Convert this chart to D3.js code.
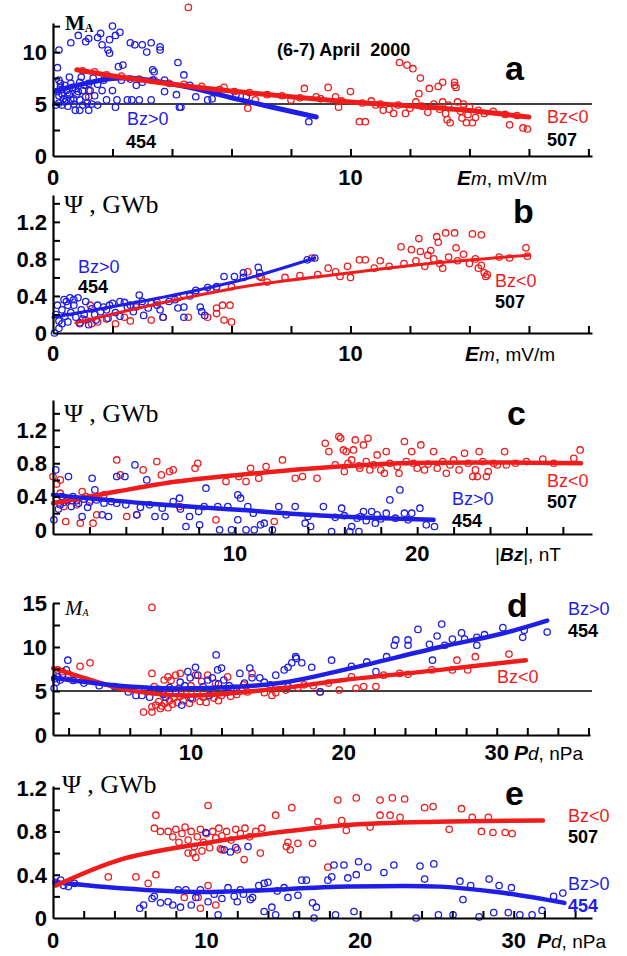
<!DOCTYPE html>
<html>
<head>
<meta charset="utf-8">
<script src="https://cdn.jsdelivr.net/npm/d3@7"></script>
<style>
body { margin: 0; background: #fff; }
text { font-family: "Liberation Sans", Arial, sans-serif; }
.serif { font-family: "Liberation Serif", "Times New Roman", serif; }
</style>
</head>
<body>
<svg id="chart" width="627" height="956"></svg>
<script>
// ---------- data ----------
// panel a : MA vs Em
var aBlue = [[2.0,12.5],[2.25,11.9],[2.1,11.6],[1.6,11.8],[1.5,11.4],[0.85,11.6],[0.6,10.9],[1.1,11.0],[1.2,11.3],[1.65,10.7],[1.9,11.2],[1.9,9.9],[1.85,10.2],[2.6,10.9],[2.75,10.7],[3.0,10.7],[3.3,10.9],[3.15,10.0],[3.6,10.2],[3.6,10.5],[2.35,8.75],[2.2,8.6],[4.2,9.0],[4.4,7.8],[3.4,8.1],[4.15,5.9],[4.25,4.7],[3.75,6.2],[3.3,5.4],[2.9,5.4],[2.65,5.4],[2.5,5.4],[2.1,4.7],[2.15,5.4],[1.8,5.4],[1.65,6.3],[2.0,6.3],[1.4,5.8],[1.25,6.3],[1.15,5.1],[1.2,4.4],[0.9,4.4],[0.75,4.4],[0.9,5.4],[0.6,5.4],[0.45,5.4],[0.2,5.1],[0.25,6.6],[0.2,7.3],[0.15,8.5],[0.2,10.2],[0.45,6.3],[0.6,7.0],[0.75,6.5],[0.9,7.1],[1.0,6.3],[0.3,6.0],[0.35,5.5],[0.55,5.9],[0.8,5.9],[1.1,5.7],[0.4,6.8],[0.55,7.6],[0.95,7.6],[1.35,7.5],[1.7,7.3],[2.8,6.8],[3.0,7.1],[3.35,7.3],[3.35,8.3],[3.75,7.3],[4.8,5.7],[5.2,5.4],[5.35,5.5],[4.6,6.8],[6.15,5.9],[6.5,5.7],[8.6,3.3],[4.3,4.7],[0.1,4.9],[0.3,4.9],[0.5,4.8],[0.7,5.0],[1.0,4.9],[1.3,5.0],[1.5,4.9],[0.15,6.2],[0.3,6.4],[0.5,6.1],[0.65,6.6],[0.85,6.2],[1.05,6.8],[0.2,5.8],[0.4,5.2],[0.7,5.5],[0.25,7.0],[1.2,7.0],[1.5,6.9],[2.3,7.3],[2.6,7.4]];
var aRed = [[4.55,14.3],[1.2,6.3],[1.2,5.7],[5.5,6.3],[5.75,6.6],[6.55,4.6],[6.8,5.4],[8.0,5.4],[8.45,6.5],[8.85,5.7],[9.25,6.6],[9.5,5.7],[9.6,4.7],[10.0,6.2],[10.3,3.3],[10.5,3.3],[10.85,4.9],[11.1,4.4],[11.45,4.1],[11.65,9.0],[11.9,8.75],[12.1,8.4],[12.35,7.5],[12.3,6.0],[12.65,6.5],[12.95,6.7],[13.1,7.1],[13.5,7.1],[13.55,6.6],[13.5,6.8],[11.85,4.1],[13.1,5.2],[13.6,5.2],[13.25,3.5],[13.35,3.2],[13.9,3.2],[14.1,3.2],[13.75,3.65],[15.35,3.0],[15.8,2.7],[15.95,2.6],[1.0,8.2],[1.4,8.1],[1.8,7.8],[2.3,7.7],[2.9,7.4],[3.4,7.3],[3.9,7.0],[4.4,6.9],[5.0,6.7],[5.6,6.4],[6.1,6.2],[6.6,6.1],[7.2,5.9],[7.7,5.8],[8.3,5.6],[9.0,5.5],[9.7,5.3],[10.4,5.1],[11.0,5.0],[11.6,4.9],[12.0,4.6],[12.4,4.8],[12.8,5.0],[13.0,4.5],[13.3,4.9],[13.7,4.3],[14.0,4.7],[14.3,4.4],[14.5,4.1],[14.8,4.3],[15.2,4.0],[15.6,3.9],[12.6,4.2],[13.2,4.1],[13.8,5.0],[12.2,5.2],[11.3,4.5],[10.7,5.3],[13.95,4.0],[14.2,3.7]];
var aBlueFit = [[0.1,6.3],[2.25,7.5],[4.25,6.8],[6.3,5.4],[8.85,3.75]];
var aRedFit = [[0.8,8.3],[2.25,7.6],[4.9,6.6],[10,5.2],[11.65,4.9],[13.9,4.4],[16,3.75]];

// panel b : Psi vs Em
var bBlue = [[0.2,0.05],[0.05,0.0],[0.3,0.1],[0.37,0.36],[0.57,0.38],[0.84,0.38],[1.1,0.34],[0.4,0.18],[0.77,0.17],[0.9,0.11],[1.2,0.09],[1.45,0.14],[1.6,0.23],[1.7,0.28],[2.0,0.32],[2.25,0.34],[2.5,0.28],[2.7,0.23],[2.9,0.41],[3.0,0.34],[3.3,0.32],[3.6,0.25],[3.7,0.17],[3.05,0.19],[2.25,0.18],[1.85,0.16],[4.4,0.17],[4.2,0.27],[4.95,0.28],[5.0,0.23],[5.1,0.19],[4.8,0.46],[5.2,0.49],[5.5,0.5],[5.75,0.61],[6.1,0.61],[6.4,0.6],[6.9,0.71],[6.95,0.65],[8.55,0.79],[8.8,0.81],[6.4,0.65],[0.1,0.2],[0.15,0.3],[0.3,0.25],[0.5,0.3],[0.6,0.22],[0.7,0.3],[0.95,0.25],[1.05,0.2],[1.3,0.26],[1.5,0.3],[1.8,0.25],[2.1,0.22],[2.4,0.33],[2.6,0.3],[3.2,0.27],[3.5,0.3],[3.9,0.34],[4.1,0.36],[4.6,0.4],[0.2,0.13],[0.5,0.12],[1.0,0.15],[1.4,0.2],[2.8,0.31],[0.45,0.34],[0.7,0.36],[1.9,0.3],[4.4,0.28]];
var bRed = [[1.25,0.3],[1.3,0.1],[0.9,0.1],[1.1,0.14],[1.5,0.12],[1.8,0.15],[2.1,0.1],[2.4,0.17],[2.6,0.13],[3.3,0.14],[3.7,0.17],[4.55,0.17],[5.2,0.17],[5.5,0.21],[5.5,0.27],[5.7,0.3],[5.95,0.3],[5.75,0.14],[6.0,0.12],[6.55,0.66],[6.95,0.61],[8.7,0.81],[9.25,0.7],[9.65,0.61],[10.0,0.6],[10.3,0.79],[10.5,0.79],[11.7,0.93],[12.05,0.9],[12.35,0.88],[12.7,0.89],[12.3,1.02],[12.9,1.04],[13.2,1.08],[13.5,1.08],[14.1,1.07],[14.4,1.06],[12.95,0.98],[13.55,0.92],[15.35,0.81],[15.9,0.92],[15.95,0.83],[14.6,0.63],[14.5,0.65],[14.3,0.7],[14.55,0.61],[2.8,0.28],[3.5,0.33],[4.2,0.38],[4.8,0.43],[5.3,0.46],[6.0,0.5],[7.2,0.55],[7.8,0.6],[8.3,0.62],[8.9,0.63],[9.5,0.66],[10.8,0.7],[11.3,0.72],[11.8,0.75],[12.2,0.78],[12.5,0.72],[12.8,0.8],[13.0,0.75],[13.3,0.82],[13.6,0.78],[13.8,0.85],[14.0,0.75],[14.2,0.8],[14.4,0.73],[13.1,0.7],[12.6,0.84],[15.0,0.82],[11.0,0.78],[9.9,0.72],[7.0,0.6]];
var bBlueFit = [[0,0.17],[3.6,0.38],[6.3,0.57],[8.8,0.81]];
var bRedFit = [[0.77,0.11],[3.3,0.3],[6.4,0.5],[10,0.65],[13,0.76],[16,0.84]];

// panel c : Psi vs |Bz|
var cBlue = [[0.15,0.72],[0.05,0.12],[0.4,0.3],[0.85,0.64],[1.4,0.32],[1.6,0.16],[2.15,0.62],[2.3,0.48],[2.7,0.18],[3.05,0.16],[3.5,0.64],[3.5,0.32],[3.95,0.64],[4.5,0.78],[4.6,0.18],[5.15,0.6],[5.3,0.3],[5.6,0.16],[6.15,0.16],[6.6,0.34],[6.95,0.38],[7.3,0.04],[7.5,0.16],[8.05,0.06],[8.4,0.5],[8.3,0.28],[9.05,0.28],[9.6,0.28],[9.15,0.0],[9.8,0.0],[10.15,0.12],[10.15,0.42],[10.3,0.38],[10.7,0.28],[10.6,0.0],[11.05,0.0],[11.4,0.06],[11.6,0.08],[12.05,0.0],[12.4,0.28],[13.3,0.28],[13.85,0.08],[14.15,0.04],[14.85,0.28],[15.3,-0.02],[15.85,0.26],[16.4,0.04],[16.3,-0.02],[16.8,-0.02],[17.05,0.22],[17.5,0.22],[17.8,0.18],[16.9,0.16],[18.3,0.2],[18.5,0.36],[19.05,0.48],[19.3,0.2],[19.7,0.2],[20.15,0.26],[20.5,0.06],[20.95,0.04],[17.7,0.08],[18.8,0.14],[0.2,0.38],[0.5,0.4],[0.8,0.36],[1.1,0.4],[1.3,0.35],[1.7,0.37],[2.0,0.33],[2.4,0.36],[2.8,0.32],[3.2,0.34],[0.3,0.25],[0.6,0.33],[1.0,0.28],[1.9,0.27],[4.0,0.3],[4.8,0.27],[6.0,0.26],[7.0,0.25],[8.0,0.22],[11.0,0.2],[12.8,0.18],[14.0,0.16],[15.5,0.15],[16.7,0.14],[18.0,0.13],[19.5,0.12],[17.2,0.11],[16.0,0.17]];
var cRed = [[0,0.64],[0.4,0.6],[0.2,0.55],[0.4,0.44],[0.7,0.1],[1.5,0.08],[2.2,0.08],[1.6,0.46],[2.05,0.36],[2.4,0.18],[3.5,0.84],[3.7,0.66],[4.05,0.16],[4.6,0.18],[4.95,0.72],[5.7,0.82],[5.95,0.66],[6.4,0.7],[6.6,0.72],[6.95,0.28],[7.8,0.74],[7.95,0.8],[8.95,0.12],[9.5,0.58],[10.2,0.64],[10.6,0.58],[10.85,0.74],[11.3,0.62],[11.7,0.76],[12.15,0.1],[12.6,0.84],[13.3,0.62],[13.7,0.64],[14.5,0.62],[14.95,1.04],[15.15,0.94],[15.7,1.12],[15.8,1.1],[15.95,0.96],[16.1,0.94],[16.5,0.96],[16.6,1.08],[17.3,1.1],[17.05,1.02],[16.4,0.84],[16.85,0.74],[17.4,0.72],[18.3,0.94],[19.3,1.06],[19.7,0.94],[20.2,1.02],[20.9,0.94],[22.6,0.92],[23.4,0.94],[24.8,0.94],[23.05,0.64],[23.8,0.64],[26.9,0.85],[28.6,0.86],[28.95,0.96],[20.0,0.74],[20.4,0.72],[21.1,0.74],[22.3,0.72],[23.2,0.72],[23.3,0.64],[23.9,0.7],[24.4,0.78],[24.9,0.78],[1.0,0.35],[1.3,0.3],[1.8,0.4],[0.6,0.28],[2.8,0.42],[15.5,0.78],[16.2,0.8],[16.8,0.77],[17.2,0.82],[17.6,0.78],[18.0,0.72],[18.5,0.8],[18.9,0.76],[19.4,0.82],[19.8,0.8],[20.6,0.79],[21.4,0.82],[21.8,0.78],[22.0,0.84],[22.8,0.8],[23.6,0.82],[24.2,0.8],[25.4,0.8],[26.0,0.82],[27.5,0.8],[18.2,0.68],[19.0,0.68],[17.8,0.9],[16.0,0.7],[21.6,0.68]];
var cBlueFit = [[0,0.42],[5,0.32],[10.2,0.24],[15,0.17],[20.9,0.12]];
var cRedFit = [[0,0.32],[3.5,0.46],[6.8,0.58],[10.2,0.66],[15.7,0.76],[19,0.8],[24,0.81],[29,0.8]];

// panel d : MA vs Pd
var dBlue = [[1.05,5.3],[1.45,6.25],[1.85,7.4],[1.95,8.5],[1.2,6.0],[1.3,6.6],[1.6,6.9],[1.1,6.4],[2.3,6.2],[5.9,4.9],[6.4,4.5],[6.8,4.5],[7.3,4.3],[8.35,4.3],[9.3,6.0],[9.4,3.4],[9.8,7.2],[9.95,6.5],[10.3,7.7],[10.45,6.8],[11.1,6.25],[11.4,6.5],[11.65,9.1],[11.75,7.4],[12.0,7.6],[12.15,6.25],[12.8,5.3],[13.2,7.0],[13.85,7.6],[14.0,6.5],[14.5,6.5],[15.55,6.8],[16.1,7.4],[16.35,7.7],[16.6,8.2],[16.85,8.9],[16.9,8.7],[17.25,8.2],[17.9,7.7],[19.2,8.5],[16.35,5.5],[18.45,4.9],[22.1,7.2],[23.3,10.2],[23.4,10.8],[24.2,10.8],[24.2,10.2],[25.6,10.3],[26.1,11.25],[25.8,8.5],[26.6,10.2],[27.1,10.9],[27.7,11.6],[27.9,10.9],[28.7,11.1],[28.7,10.2],[29.2,11.4],[30.4,12.2],[31.8,11.9],[31.7,11.1],[33.3,11.7],[24.85,12.0],[26.4,12.6],[3,5.9],[4,5.6],[5,5.5],[7.9,5.2],[8.6,5.4],[9.0,5.0],[10.8,5.5],[11.8,5.8],[12.5,5.6],[13.5,5.9],[14.8,6.0],[15.2,5.7],[10.0,4.2],[11.2,4.5],[12.3,4.8],[13.0,5.0],[20.5,7.8],[21.5,8.3],[22.8,8.9],[7.0,5.1],[9.6,5.6],[8.2,4.6]];
var dRed = [[1.3,7.4],[2.75,7.8],[3.4,8.2],[6.9,2.6],[7.45,2.6],[7.45,7.0],[7.45,14.5],[7.45,3.2],[8.0,3.0],[8.25,6.25],[8.5,6.6],[9.0,6.8],[9.3,7.0],[10.3,6.8],[11.1,6.8],[12.4,6.6],[13.45,5.7],[14.0,7.0],[14.8,4.8],[15.3,4.5],[15.55,4.8],[17.4,5.7],[18.45,4.9],[19.7,5.1],[20.5,6.6],[20.8,5.3],[21.3,5.5],[22.1,5.5],[22.6,6.8],[23.65,7.0],[24.2,6.9],[25.75,7.4],[27.1,7.4],[27.4,8.5],[28.1,7.4],[28.6,8.9],[30.8,9.2],[7.7,3.4],[7.9,3.8],[8.1,3.3],[8.3,3.6],[8.5,3.1],[8.6,3.9],[8.8,3.5],[8.9,4.2],[9.1,3.7],[9.3,4.4],[9.5,3.9],[9.7,4.6],[9.9,3.6],[10.1,4.1],[10.4,4.8],[10.6,3.8],[10.8,4.3],[11.0,3.7],[11.3,4.9],[11.5,4.2],[11.8,3.9],[12.0,4.5],[12.3,5.0],[12.6,4.4],[13.0,4.6],[13.3,5.2],[13.7,4.9],[8.2,4.7],[9.2,5.3],[10.0,5.6],[11.6,5.9],[7.6,5.5],[8.7,6.2],[10.7,6.1],[16.2,5.1],[17.0,5.4],[18.0,5.6],[19.0,5.9],[1.6,7.2],[2.0,6.9]];
var dBlueFit = [[1,6.5],[5.9,5.5],[10,5.3],[15.8,5.9],[20,7.4],[26.3,10.0],[30.3,11.5],[33.3,13.0]];
var dRedFit = [[1,7.6],[3,6.5],[5.9,5.1],[10,4.5],[15.8,5.3],[20,6.25],[26.3,7.4],[31.9,8.5]];

// panel e : Psi vs Pd
var eBlue = [[0.2,0.33],[0.7,0.3],[1.4,0.32],[0.5,0.35],[1.0,0.29],[5.65,0.09],[5.9,0.12],[6.45,0.18],[7.0,0.14],[7.5,0.15],[8.15,0.26],[8.3,0.1],[8.65,0.26],[9.3,0.19],[9.6,0.26],[9.95,0.79],[10.1,0.15],[10.75,0.03],[11.15,0.63],[11.55,0.61],[11.9,0.65],[12.2,0.26],[12.7,0.66],[12.85,0.17],[13.75,0.32],[13.75,0.06],[14.0,0.33],[14.25,0.1],[14.5,0.03],[15.05,0.28],[15.3,0.19],[15.85,0.03],[15.95,0.21],[16.2,0.35],[16.5,0.35],[16.9,0.14],[17.15,0.1],[17.9,0.35],[18.15,0.38],[18.3,0.49],[18.95,0.49],[19.2,0.37],[19.75,0.4],[19.9,0.52],[20.5,0.47],[21.55,0.42],[22.2,0.49],[23.9,0.48],[24.8,0.5],[24.2,0.36],[26.5,0.34],[27.2,0.3],[26.7,0.17],[28.4,0.36],[29.05,0.3],[29.85,0.28],[32.6,0.2],[33.2,0.23],[23.65,0.0],[25.1,0.03],[26.05,0.03],[27.75,0.01],[28.7,0.05],[29.65,0.05],[30.4,0.03],[31.2,0.03],[31.85,0.07],[18.4,0.03],[19.6,0.06],[17.0,0.0],[10.5,0.22],[11.0,0.18],[11.8,0.2],[12.4,0.22],[13.0,0.19],[13.4,0.3],[14.6,0.25],[6.6,0.2],[7.8,0.12],[9.0,0.12],[11.4,0.28],[12.0,0.15]];
var eRed = [[6.7,0.95],[6.6,0.83],[7.0,0.8],[3.6,0.38],[5.4,0.38],[6.2,0.32],[6.7,0.4],[10.1,1.04],[8.8,0.6],[9.3,0.56],[8.55,0.19],[9.45,0.19],[9.6,0.09],[10.1,0.3],[10.6,0.12],[11.0,0.63],[12.45,0.54],[13.5,0.6],[14.5,0.95],[15.2,0.66],[15.3,0.7],[15.45,0.63],[15.55,1.02],[15.95,0.69],[16.9,0.69],[17.25,0.89],[17.9,0.47],[18.55,1.09],[18.8,0.9],[19.1,0.81],[19.75,1.11],[20.65,0.84],[21.3,1.09],[21.3,0.95],[21.95,0.95],[22.1,1.11],[22.6,0.93],[22.9,1.1],[24.2,1.02],[24.75,1.03],[26.6,1.01],[25.8,0.82],[27.3,0.93],[27.9,0.8],[28.65,0.79],[29.45,0.79],[29.9,0.78],[28.35,0.93],[7.5,0.8],[7.8,0.75],[8.0,0.82],[8.2,0.7],[8.4,0.78],[8.6,0.84],[8.8,0.72],[9.0,0.8],[9.2,0.66],[9.4,0.75],[9.6,0.82],[9.8,0.7],[10.0,0.78],[10.2,0.65],[10.4,0.8],[10.6,0.74],[10.8,0.83],[11.0,0.76],[11.3,0.8],[11.6,0.72],[11.9,0.82],[12.2,0.78],[12.5,0.83],[12.8,0.75],[13.2,0.8],[13.6,0.83],[9.1,0.6],[9.7,0.62],[10.9,0.64],[12.0,0.63]];
var eBlueFit = [[0.2,0.33],[4,0.28],[9.8,0.24],[19.2,0.29],[25.2,0.29],[28.9,0.24],[33.3,0.14]];
var eRedFit = [[0.2,0.3],[4.4,0.54],[9.8,0.69],[14,0.78],[19.2,0.86],[25,0.89],[31.9,0.9]];

// ticks
var xTicksEm = [2,4,6,8,10,12,14,16,18];
var xLabelsEm = [0,10];
var xTicksBz = [2,4,6,8,10,12,14,16,18,20,22,24,26,28];
var xLabelsBz = [10,20];
var xTicksPdD = [2,4,6,8,10,12,14,16,18,20,22,24,26,28,30,32,34,36];
var xLabelsPdD = [10,20,30];
var xTicksPdE = [2,4,6,8,10,12,14,16,18,20,22,24,26,28,30,32,34];
var xLabelsPdE = [0,10,20,30];
var yTicksMa = [2.5,5,7.5,10,12.5];
var yLabelsMa = [0,5,10];
var yTicksMaD = [2.5,5,7.5,10,12.5,15];
var yLabelsMaD = [0,5,10,15];
var yTicksPsi = [0.2,0.4,0.6,0.8,1.0,1.2,1.4];
var yTicksPsiE = [0.2,0.4,0.6,0.8,1.0,1.2];
var yLabelsPsi = [0,0.4,0.8,1.2];

var blue = "#1e1ee6", red = "#f01c1c";
var svg = d3.select("#chart");

function drawPanel(p){
	var x = d3.scaleLinear().domain(p.xDomain).range([53, p.xEnd]);
	var y = d3.scaleLinear().domain(p.yDomain).range(p.yRange);
	var g = svg.append("g");

	if (p.refLine != null) {
		g.append("line")
			.attr("x1", 53).attr("x2", 592)
			.attr("y1", y(p.refLine)).attr("y2", y(p.refLine))
			.attr("stroke", "#000").attr("stroke-width", 1.6);
	}

	function dots(data, color){
		g.append("g").selectAll("circle").data(data).enter().append("circle")
			.attr("cx", function(d){ return x(d[0]); })
			.attr("cy", function(d){ return y(d[1]); })
			.attr("r", 3.2)
			.attr("fill", "none")
			.attr("stroke", color)
			.attr("stroke-width", 1.3);
	}
	var line = d3.line()
		.x(function(d){ return x(d[0]); })
		.y(function(d){ return y(d[1]); })
		.curve(d3.curveCatmullRom.alpha(0.5));
	function fit(data, color){
		g.append("path").attr("d", line(data))
			.attr("fill", "none").attr("stroke", color)
			.attr("stroke-width", p.fitWidth).attr("stroke-linecap", "round");
	}

	dots(p.red, red);
	dots(p.blue, blue);
	if (p.redOnTop) { fit(p.blueFit, blue); fit(p.redFit, red); }
	else { fit(p.redFit, red); fit(p.blueFit, blue); }

	// axes
	var xAxis = d3.axisBottom(x).tickValues(p.xTicks).tickSizeInner(-7).tickSizeOuter(0).tickFormat("");
	var gx = g.append("g").attr("transform", "translate(0," + p.yRange[0] + ")").call(xAxis);
	var yAxis = d3.axisLeft(y).tickValues(p.yTicks).tickSizeInner(-7).tickSizeOuter(0).tickFormat("");
	var gy = g.append("g").attr("transform", "translate(53,0)").call(yAxis);
	[gx, gy].forEach(function(a){
		a.select(".domain").attr("stroke", "#000").attr("stroke-width", 2.2);
		a.selectAll(".tick line").attr("stroke", "#000").attr("stroke-width", 2);
	});

	g.selectAll(".ylab").data(p.yLabels).enter().append("text")
		.attr("x", 47).attr("y", function(d){ return y(d); }).attr("dy", "0.36em")
		.attr("text-anchor", "end").attr("font-size", 22).attr("font-weight", "bold")
		.text(function(d){ return d; });
	g.selectAll(".xlab").data(p.xLabels).enter().append("text")
		.attr("x", function(d){ return x(d); }).attr("y", p.xLabelY)
		.attr("text-anchor", "middle").attr("font-size", 22).attr("font-weight", "bold")
		.text(function(d){ return d; });

	// panel letter
	g.append("text").attr("x", p.letter[1]).attr("y", p.letter[2])
		.attr("font-size", 34).attr("font-weight", "bold").text(p.letter[0]);

	p.notes.forEach(function(n){
		g.append("text").attr("x", n[1]).attr("y", n[2])
			.attr("font-size", 18).attr("font-weight", n[4] ? "bold" : "normal")
			.attr("fill", n[3]).text(n[0]);
	});
	return g;
}

function psiTitle(g, xx, yy){
	var t = g.append("text").attr("class", "serif").attr("x", xx).attr("y", yy).attr("font-size", 26);
	t.append("tspan").text("Ψ");
	t.append("tspan").attr("dx", 6).text(", GWb");
}
function emTitle(g, xx, yy){
	var t = g.append("text").attr("x", xx).attr("y", yy).attr("font-size", 19);
	t.append("tspan").attr("font-weight", "bold").attr("font-style", "italic").attr("font-size", 21).text("E");
	t.append("tspan").attr("font-style", "italic").text("m");
	t.append("tspan").text(", mV/m");
}
function pdTitle(g, xx, yy){
	var t = g.append("text").attr("x", xx).attr("y", yy).attr("font-size", 19);
	t.append("tspan").attr("font-weight", "bold").attr("font-style", "italic").attr("font-size", 21).text("P");
	t.append("tspan").attr("font-style", "italic").text("d");
	t.append("tspan").text(", nPa");
}

// ---- a ----
var ga = drawPanel({
	xDomain: [0, 18.12], xEnd: 592, yDomain: [0, 12.8], yRange: [156, 23],
	xTicks: xTicksEm, xLabels: xLabelsEm, xLabelY: 185, yTicks: yTicksMa, yLabels: yLabelsMa,
	refLine: 5, red: aRed, blue: aBlue, redFit: aRedFit, blueFit: aBlueFit, fitWidth: 5, redOnTop: true,
	letter: ["a", 505, 80],
	notes: [["Bz>0", 127, 125, blue], ["454", 126, 148, "#000", true], ["Bz<0", 547, 123, red], ["507", 547, 146, "#000", true]]
});
var ma = ga.append("text").attr("class", "serif").attr("x", 65).attr("y", 30).attr("font-size", 21).attr("font-weight", "bold");
ma.append("tspan").text("M");
ma.append("tspan").attr("font-size", 12).attr("dy", 2).text("A");
ga.append("text").attr("x", 277).attr("y", 56).attr("font-size", 18).attr("font-weight", "bold")
	.style("white-space", "pre").text("(6-7) April  2000");
emTitle(ga, 457, 185);

// ---- b ----
var gb = drawPanel({
	xDomain: [0, 18.12], xEnd: 592, yDomain: [0, 1.49], yRange: [333, 195],
	xTicks: xTicksEm, xLabels: xLabelsEm, xLabelY: 361, yTicks: yTicksPsi, yLabels: yLabelsPsi,
	refLine: null, red: bRed, blue: bBlue, redFit: bRedFit, blueFit: bBlueFit, fitWidth: 3, redOnTop: false,
	letter: ["b", 513, 223],
	notes: [["Bz>0", 78, 273, blue], ["454", 78, 293, "#000", true], ["Bz<0", 495, 287, red], ["507", 495, 308, "#000", true]]
});
psiTitle(gb, 64, 213);
emTitle(gb, 465, 361);

// ---- c ----
var gc = drawPanel({
	xDomain: [0, 29.6], xEnd: 592, yDomain: [-0.05, 1.56], yRange: [534, 400],
	xTicks: xTicksBz, xLabels: xLabelsBz, xLabelY: 561, yTicks: yTicksPsi, yLabels: yLabelsPsi,
	refLine: null, red: cRed, blue: cBlue, redFit: cRedFit, blueFit: cBlueFit, fitWidth: 4.5, redOnTop: false,
	letter: ["c", 507, 425],
	notes: [["Bz>0", 452, 505, blue], ["454", 452, 527, "#000", true], ["Bz<0", 547, 487, red], ["507", 547, 508, "#000", true]]
});
psiTitle(gc, 64, 422);
var bt = gc.append("text").attr("x", 495).attr("y", 561).attr("font-size", 19);
bt.append("tspan").text("|");
bt.append("tspan").attr("font-style", "italic").attr("font-weight", "bold").text("Bz");
bt.append("tspan").text("|, nT");

// ---- d ----
var gd = drawPanel({
	xDomain: [0.98, 36.1], xEnd: 590, yDomain: [0, 15], yRange: [735, 603],
	xTicks: xTicksPdD, xLabels: xLabelsPdD, xLabelY: 760, yTicks: yTicksMaD, yLabels: yLabelsMaD,
	refLine: 5, red: dRed, blue: dBlue, redFit: dRedFit, blueFit: dBlueFit, fitWidth: 4.5, redOnTop: false,
	letter: ["d", 507, 617],
	notes: [["Bz>0", 568, 615, blue], ["454", 568, 637, "#000", true], ["Bz<0", 497, 683, red]]
});
var md = gd.append("text").attr("class", "serif").attr("x", 65).attr("y", 615).attr("font-size", 21).attr("font-style", "italic");
md.append("tspan").text("M");
md.append("tspan").attr("font-size", 10).attr("dy", 1).text("A");
pdTitle(gd, 514, 760);

// ---- e ----
var ge = drawPanel({
	xDomain: [0, 35.1], xEnd: 592, yDomain: [0, 1.22], yRange: [918, 786],
	xTicks: xTicksPdE, xLabels: xLabelsPdE, xLabelY: 948, yTicks: yTicksPsiE, yLabels: yLabelsPsi,
	refLine: null, red: eRed, blue: eBlue, redFit: eRedFit, blueFit: eBlueFit, fitWidth: 4.5, redOnTop: true,
	letter: ["e", 505, 805],
	notes: [["Bz<0", 568, 822, red], ["507", 568, 843, "#000", true], ["Bz>0", 568, 890, blue], ["454", 568, 912, blue, true]]
});
psiTitle(ge, 62, 793);
pdTitle(ge, 537, 948);
</script>
</body>
</html>
